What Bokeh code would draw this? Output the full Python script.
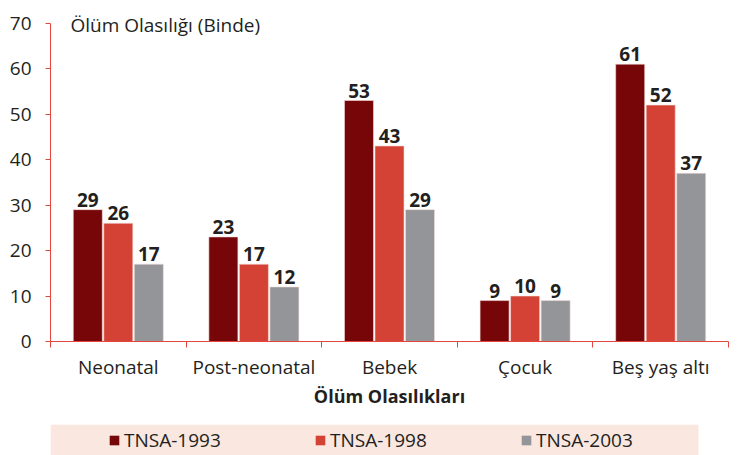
from bokeh.plotting import figure
from bokeh.layouts import column
from bokeh.models import Range1d, FixedTicker, Legend, LegendItem, Label, BoxAnnotation
from bokeh.core.properties import value
from bokeh.embed import file_html
from bokeh.resources import INLINE

categories = ["Neonatal", "Post-neonatal", "Bebek", "Çocuk", "Beş yaş altı"]
series_names = ["TNSA-1993", "TNSA-1998", "TNSA-2003"]
tnsa_1993 = [29, 23, 53, 9, 61]
tnsa_1998 = [26, 17, 43, 10, 52]
tnsa_2003 = [17, 12, 29, 9, 37]
y_ticks = [0, 10, 20, 30, 40, 50, 60, 70]
y_title = "Ölüm Olasılığı (Binde)"
x_title = "Ölüm Olasılıkları"

colors = ["#760608", "#d44135", "#939598"]
FONT = "Open Sans"
TEXT = "#231f20"
AXIS = "#e2463d"
LEGEND_BG = "#f9e7e0"

n = len(categories)
p = figure(width=753, height=424, output_backend="svg", toolbar_location=None,
           x_range=Range1d(0, n), y_range=Range1d(y_ticks[0], y_ticks[-1] + 5),
           min_border_left=50, min_border_right=25, min_border_top=0, min_border_bottom=83)
p.grid.visible = False
p.outline_line_color = None

# y axis
ya = p.yaxis[0]
ya.ticker = FixedTicker(ticks=y_ticks)
ya.bounds = (y_ticks[0], y_ticks[-1])
ya.axis_line_color = AXIS
ya.major_tick_line_color = AXIS
ya.major_tick_out = 5
ya.major_tick_in = 0
ya.minor_tick_out = 0
ya.minor_tick_in = 0
ya.major_label_standoff = 14
ya.major_label_text_font = FONT
ya.major_label_text_font_size = "19px"
ya.major_label_text_color = TEXT

# x axis: labels at group centres, ticks at group boundaries
xa = p.xaxis[0]
centers = [i + 0.5 for i in range(n)]
xa.ticker = FixedTicker(ticks=centers, minor_ticks=list(range(n + 1)))
xa.major_label_overrides = {c: cat for c, cat in zip(centers, categories)}
xa.axis_line_color = AXIS
xa.major_tick_out = 0
xa.major_tick_in = 0
xa.minor_tick_out = 6
xa.minor_tick_in = 0
xa.minor_tick_line_color = AXIS
xa.major_label_standoff = 6
xa.major_label_text_font = FONT
xa.major_label_text_font_size = "19px"
xa.major_label_text_color = TEXT
xa.axis_label = x_title
xa.axis_label_text_font = FONT
xa.axis_label_text_font_style = "bold"
xa.axis_label_text_font_size = "18px"
xa.axis_label_text_color = TEXT
xa.axis_label_standoff = 1

bar_w = 0.214
step = 0.225
for j, (vals, col) in enumerate(zip([tnsa_1993, tnsa_1998, tnsa_2003], colors)):
    xs = [c + (j - 1) * step for c in centers]
    p.vbar(x=xs, top=vals, width=bar_w, bottom=0, fill_color=col,
           line_color="#f3dcd8", line_width=0.6)
    p.text(x=xs, y=vals, text=[str(v) for v in vals], text_align="center",
           text_baseline="bottom", y_offset=-3, text_font=value(FONT),
           text_font_style="bold", text_font_size="19px", text_color=TEXT)

p.add_layout(Label(x=0.147, y=y_ticks[-1], text=y_title, text_baseline="alphabetic",
                   y_offset=-2, text_font=FONT, text_font_size="19px", text_color=TEXT))

# legend strip (same frame as the chart, pink box behind the legend)
lf = figure(width=753, height=31, output_backend="svg", toolbar_location=None,
            x_range=Range1d(0, 1), y_range=Range1d(0, 1),
            x_axis_location=None, y_axis_location=None,
            min_border_left=50, min_border_right=25, min_border_top=0, min_border_bottom=0)
lf.grid.visible = False
lf.outline_line_color = None
lf.background_fill_color = "white"
lf.border_fill_color = "white"
lf.add_layout(BoxAnnotation(left=0, right=648 / 678, fill_color=LEGEND_BG, fill_alpha=1,
                            line_color=None, level="underlay"))

leg_renderers = [lf.vbar(x=[-5], top=[0], width=0.1, fill_color=c, line_color=None) for c in colors]
leg = Legend(items=[LegendItem(label=nm, renderers=[r]) for nm, r in zip(series_names, leg_renderers)],
             location=(58, 2), orientation="horizontal", padding=0, margin=0, spacing=0,
             glyph_width=12, glyph_height=12, label_width=190, label_height=20,
             label_standoff=4, background_fill_alpha=0, border_line_color=None,
             label_text_font=FONT, label_text_font_size="19px", label_text_color=TEXT)
lf.add_layout(leg, "center")

layout = column(p, lf, spacing=0)
open("out.html", "w").write(file_html(layout, INLINE))
